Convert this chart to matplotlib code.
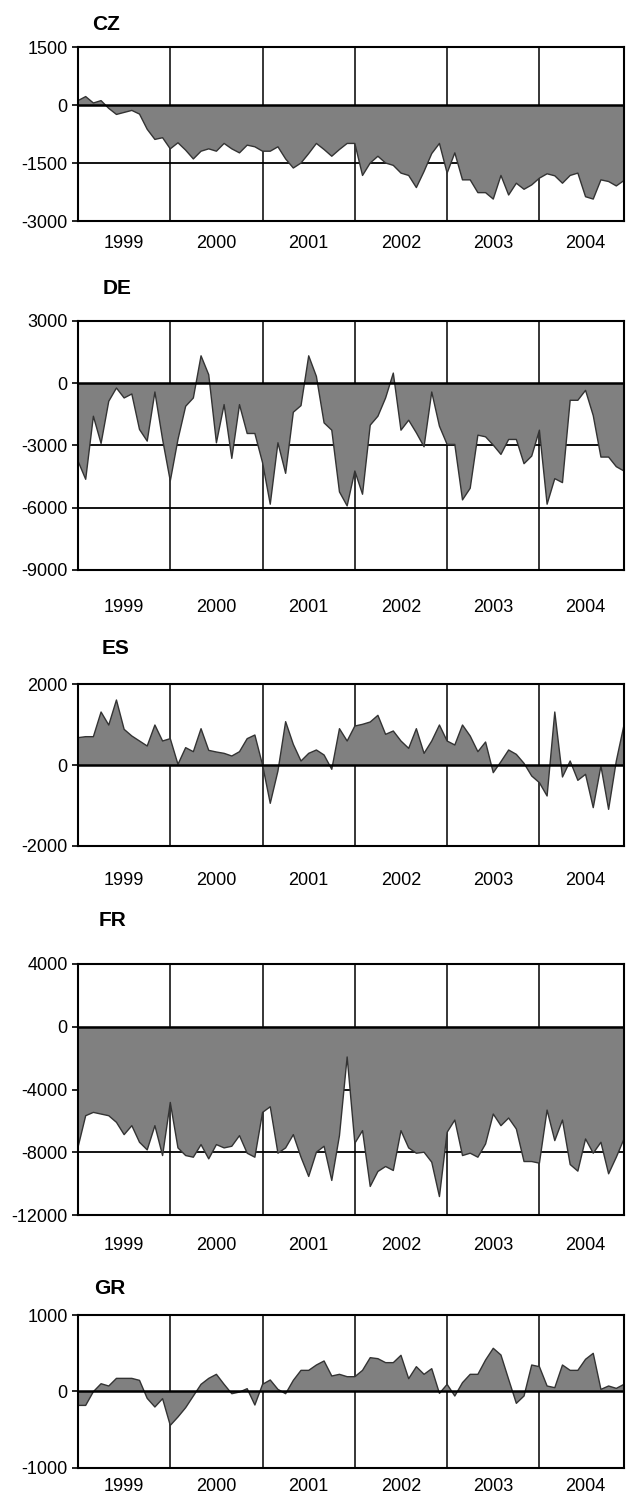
import numpy as np
import matplotlib
matplotlib.use("Agg")
import matplotlib.pyplot as plt

plt.rcParams['font.family'] = ['Liberation Sans', 'DejaVu Sans']

years = ['1999', '2000', '2001', '2002', '2003', '2004']
n_months = 72

cz = [113, 218, 52, 113, -87, -244, -192, -140, -235, -628, -890, -846,
      -1134, -977, -1168, -1395, -1195, -1134, -1195, -994, -1134, -1238, -1038, -1081,
      -1195, -1195, -1081, -1395, -1630, -1500, -1256, -994, -1151, -1325, -1151, -994,
      -994, -1822, -1500, -1325, -1500, -1561, -1761, -1822, -2136, -1718, -1256, -994,
      -1761, -1238, -1936, -1936, -2267, -2267, -2433, -1822, -2328, -2023, -2180, -2067,
      -1892, -1779, -1831, -2023, -1822, -1761, -2372, -2433, -1936, -1979, -2093, -1953]

de = [-3755, -4634, -1598, -2908, -879, -240, -719, -527, -2237, -2796, -431, -2716,
      -4714, -2716, -1119, -719, 1310, 400, -2876, -1039, -3627, -1039, -2429, -2429,
      -3835, -5833, -2876, -4347, -1406, -1087, 1310, 320, -1918, -2269, -5241, -5913,
      -4235, -5353, -2029, -1598, -719, 479, -2269, -1790, -2397, -3068, -431, -2077,
      -2956, -2956, -5625, -5066, -2509, -2589, -2988, -3436, -2716, -2716, -3883, -3516,
      -2269, -5833, -4602, -4794, -831, -831, -352, -1566, -3564, -3564, -4027, -4235]

es = [677, 702, 702, 1313, 991, 1611, 884, 719, 595, 471, 991, 595,
      653, 17, 430, 330, 900, 363, 322, 289, 223, 330, 653, 743,
      0, -950, -149, 1074, 512, 99, 289, 372, 248, -107, 900, 595,
      966, 1008, 1066, 1231, 760, 843, 595, 413, 900, 289, 595, 991,
      595, 496, 991, 719, 330, 570, -190, 83, 372, 264, 41, -273,
      -438, -768, 1313, -297, 99, -380, -231, -1057, -25, -1099, 99, 991]

fr = [-7681, -5671, -5459, -5565, -5671, -6094, -6877, -6306, -7364, -7850, -6306, -8210,
      -4824, -7723, -8210, -8316, -7512, -8422, -7512, -7723, -7618, -6940, -8062, -8316,
      -5459, -5100, -8062, -7723, -6877, -8316, -9543, -7998, -7618, -9797, -6940, -1926,
      -7427, -6623, -10180, -9226, -8908, -9162, -6623, -7723, -8062, -7998, -8633, -10825,
      -6729, -5946, -8210, -8062, -8316, -7470, -5565, -6306, -5819, -6517, -8591, -8591,
      -8697, -5311, -7258, -5946, -8782, -9205, -7152, -8062, -7364, -9374, -8316, -7152]

gr = [-184, -184, -4, 100, 70, 170, 170, 170, 144, -92, -205, -96,
      -446, -336, -214, -61, 92, 170, 223, 92, -31, -9, 35, -179,
      92, 149, 26, -31, 144, 275, 275, 345, 398, 201, 223, 192,
      192, 275, 441, 428, 376, 376, 472, 166, 323, 223, 297, -26,
      92, -61, 114, 223, 223, 411, 564, 476, 157, -157, -61, 345,
      323, 70, 48, 345, 275, 275, 420, 498, 26, 70, 39, 92]

panels = [
    # name, data, yticks, top px, bottom px, year label y px, title x px, title y px
    ('CZ', cz, [1500, 0, -1500, -3000], 47, 221, 243, 92, 25),
    ('DE', de, [3000, 0, -3000, -6000, -9000], 320.7, 570, 608, 103, 288),
    ('ES', es, [2000, 0, -2000], 684.3, 845.7, 880.7, 102, 648),
    ('FR', fr, [4000, 0, -4000, -8000, -12000], 964, 1215, 1245, 99, 920),
    ('GR', gr, [1000, 0, -1000], 1315, 1467.7, 1486.7, 94, 1288),
]

W, H = 632, 1499
fig = plt.figure(figsize=(W / 100, H / 100), dpi=100)
left_px, right_px = 78, 624

x = np.arange(n_months)
year_starts = np.arange(12, n_months, 12)
year_centers = np.arange(6, n_months, 12)

for name, data, yt, top, bot, ylab, tx, ty in panels:
    ax = fig.add_axes([left_px / W, 1 - bot / H, (right_px - left_px) / W, (bot - top) / H])
    vals = np.array(data, dtype=float)
    ax.set_xlim(0, n_months - 1)
    ax.set_ylim(min(yt), max(yt))
    for t in yt:
        if t != 0:
            ax.axhline(t, color='black', lw=1.3, zorder=1)
    for xs in year_starts:
        ax.axvline(xs, color='black', lw=1.1, zorder=1)
    ax.fill_between(x, vals, 0, facecolor='#808080', edgecolor='none', zorder=2)
    ax.plot(x, vals, color='#333333', lw=1.0, zorder=3)
    ax.axhline(0, color='black', lw=1.8, zorder=4)
    ax.set_yticks(yt)
    ax.set_yticklabels([str(t) for t in yt])
    ax.set_xticks([])
    ax.tick_params(axis='y', length=4.5, width=1.2, pad=3, labelsize=13)
    for sp in ax.spines.values():
        sp.set_linewidth(1.5)
        sp.set_color('black')
        sp.set_zorder(5)
    for yc, lab in zip(year_centers, years):
        ax.annotate(lab, xy=(yc, 0), xycoords=('data', 'axes fraction'),
                    xytext=(0, -(ylab - bot) * 0.72), textcoords='offset points',
                    ha='center', va='center', fontsize=13)
    fig.text(tx / W, 1 - ty / H, name, ha='left', va='center', fontsize=15, fontweight='bold')

fig.savefig('out.png', dpi=100)
